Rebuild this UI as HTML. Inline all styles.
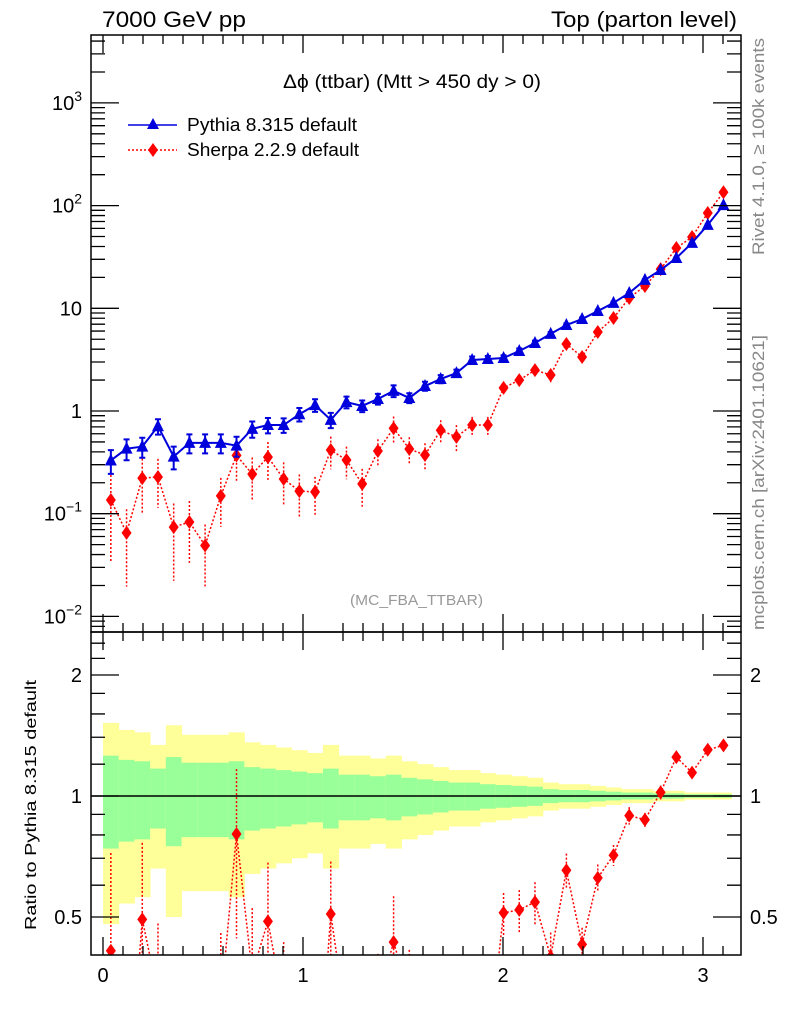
<!DOCTYPE html>
<html><head><meta charset="utf-8"><style>
html,body{margin:0;background:#fff;width:786px;height:1024px;overflow:hidden;position:relative}
svg{font-family:"Liberation Sans",sans-serif;display:block;position:absolute;left:0;top:0}
</style></head><body>
<svg id="c" width="786" height="1024" xmlns="http://www.w3.org/2000/svg"></svg>
<script>
const xCenters=[];for(let i=0;i<40;i++)xCenters.push((i+0.5)*Math.PI/40);
const pythia=[0.33,0.43,0.45,0.71,0.36,0.49,0.49,0.49,0.46,0.67,0.73,0.73,0.93,1.14,0.82,1.22,1.12,1.31,1.57,1.34,1.75,2.05,2.34,3.14,3.21,3.28,3.84,4.59,5.63,6.87,7.86,9.4,11.3,14.1,18.9,23.6,30.9,43.3,65,101];
const pythiaRelErr=[0.26,0.23,0.22,0.17,0.25,0.21,0.21,0.21,0.22,0.18,0.17,0.16,0.15,0.14,0.17,0.13,0.13,0.12,0.13,0.11,0.10,0.09,0.08,0.08,0.07,0.065,0.06,0.055,0.04,0.035,0.035,0.03,0.025,0.02,0.02,0.015,0.015,0.01,0.01,0.01];
const sherpa=[0.136,0.065,0.222,0.228,0.074,0.083,0.049,0.149,0.37,0.243,0.356,0.218,0.166,0.163,0.417,0.333,0.195,0.408,0.68,0.427,0.373,0.65,0.56,0.73,0.73,1.68,2.0,2.5,2.24,4.49,3.36,5.88,8.05,12.6,16.5,24.1,38.6,49.5,84.7,135];
const sherpaRelErr=[0.75,0.7,0.55,0.5,0.7,0.6,0.6,0.5,0.45,0.45,0.4,0.45,0.45,0.4,0.35,0.35,0.4,0.3,0.3,0.3,0.3,0.25,0.3,0.2,0.2,0.12,0.12,0.12,0.15,0.1,0.1,0.08,0.06,0.05,0.04,0.04,0.03,0.03,0.02,0.02];
const xTicks=[0,1,2,3];
const mainTicks=[[3,"10<tspan dy='-9' font-size='14'>3</tspan>"],[2,"10<tspan dy='-9' font-size='14'>2</tspan>"],[1,"10"],[0,"1"],[-1,"10<tspan dy='-9' font-size='14'>−1</tspan>"],[-2,"10<tspan dy='-9' font-size='14'>−2</tspan>"]];
const ratioTicks=[2,1,0.5];

const S=document.getElementById('c');const NS='http://www.w3.org/2000/svg';
function el(t,a,p){const e=document.createElementNS(NS,t);for(const k in a)e.setAttribute(k,a[k]);(p||S).appendChild(e);return e;}
const L=91,R=741,T=35,MB=632,RB=955;
const X=v=>103+200*v;
const Y=v=>411-102.7*Math.log10(v);
const YR=v=>796-121*Math.log2(v);
const bw=Math.PI/40;
const defs=el('defs',{});
const c1=el('clipPath',{id:'cm'},defs);el('rect',{x:L,y:T,width:R-L,height:MB-T},c1);
const c2=el('clipPath',{id:'cr'},defs);el('rect',{x:L,y:MB,width:R-L,height:RB-MB},c2);
const gR=el('g',{'clip-path':'url(#cr)'});

for(let i=0;i<40;i++){const e=pythiaRelErr[i];const x0=X(i*bw),x1=X((i+1)*bw)+0.5;
 const y=el('rect',{x:x0,y:YR(1+2*e),width:x1-x0,height:YR(Math.max(1-2*e,0.05))-YR(1+2*e),fill:'#ffff99'},gR);
 
 const g=el('rect',{x:x0,y:YR(1+e),width:x1-x0,height:YR(1-e)-YR(1+e),fill:'#99ff99'},gR);
 }
el('line',{x1:L,x2:R,y1:YR(1),y2:YR(1),stroke:'#000','stroke-width':1.5},gR);
let rp='';const ratio=sherpa.map((s,i)=>s/pythia[i]);
ratio.forEach((r,i)=>{rp+=(i?'L':'M')+X(xCenters[i])+','+YR(r);});
el('path',{d:rp,fill:'none',stroke:'red','stroke-width':1.5,'stroke-dasharray':'2,2'},gR);
ratio.forEach((r,i)=>{const x=X(xCenters[i]),e=sherpaRelErr[i];
 el('line',{x1:x,x2:x,y1:YR(r*(1+e)),y2:YR(Math.max(r*(1-e),0.01)),stroke:'red','stroke-width':1.5,'stroke-dasharray':'2,2'},gR);
 const y=YR(r);const d=el('path',{d:`M${x},${y-7}L${x+5},${y}L${x},${y+7}L${x-5},${y}Z`,fill:'red'},gR);
 });
const gM=el('g',{'clip-path':'url(#cm)'});

let sp='',pp='';
sherpa.forEach((v,i)=>sp+=(i?'L':'M')+X(xCenters[i])+','+Y(v));
pythia.forEach((v,i)=>pp+=(i?'L':'M')+X(xCenters[i])+','+Y(v));
el('path',{d:sp,fill:'none',stroke:'red','stroke-width':1.5,'stroke-dasharray':'2,2'},gM);
sherpa.forEach((v,i)=>{const x=X(xCenters[i]),e=sherpaRelErr[i];
 el('line',{x1:x,x2:x,y1:Y(v*(1+e)),y2:Y(Math.max(v*(1-e),1e-4)),stroke:'red','stroke-width':1.5,'stroke-dasharray':'2,2'},gM);
 const y=Y(v);const d=el('path',{d:`M${x},${y-7}L${x+5},${y}L${x},${y+7}L${x-5},${y}Z`,fill:'red'},gM);
 });
el('path',{d:pp,fill:'none',stroke:'#0000dd','stroke-width':2},gM);
pythia.forEach((v,i)=>{const x=X(xCenters[i]),e=pythiaRelErr[i];
 const y1=Y(v*(1+e)),y2=Y(v*(1-e));
 el('path',{d:`M${x},${y1}V${y2}M${x-3},${y1}H${x+3}M${x-3},${y2}H${x+3}`,stroke:'#0000dd','stroke-width':2},gM);
 const y=Y(v);const d=el('path',{d:`M${x},${y-7}L${x+6},${y+5}L${x-6},${y+5}Z`,fill:'#0000dd'},gM);
 });
el('rect',{x:L,y:T,width:R-L,height:MB-T,fill:'none',stroke:'#000','stroke-width':1.5});
el('rect',{x:L,y:MB,width:R-L,height:RB-MB,fill:'none',stroke:'#000','stroke-width':1.5});
let tk='';
for(let v=-0.05;v<=3.2;v+=0.1){const t=Math.round(v*10)/10;if(t<-0.06)continue;const x=X(t);if(x<L||x>R)continue;const big=Math.abs(t-Math.round(t))<1e-6;const h=big?18:9;
 tk+=`M${x},${T}v${h}M${x},${MB}v${-h}M${x},${MB}v${h}M${x},${RB}v${-h}`;}
for(let d=-3;d<4;d++)for(let m=1;m<10;m++){const y=Y(m*Math.pow(10,d));if(y<T||y>MB)continue;const h=m==1?28:14;tk+=`M${L},${y}h${h}M${R},${y}h${-h}`;}
[0.4,0.5,0.6,0.7,0.8,0.9,1,1.2,1.4,1.6,1.8,2,2.2,2.4].forEach(v=>{const y=YR(v);if(y<MB||y>RB)return;const h=(v==0.5||v==1||v==2)?28:14;tk+=`M${L},${y}h${h}M${R},${y}h${-h}`;});
el('path',{d:tk,stroke:'#000','stroke-width':1.3,fill:'none'});
function tx(x,y,s,a){const t=el('text',Object.assign({x,y,'font-size':20},a||{}));t.innerHTML=s;return t;}
mainTicks.forEach(([d,s])=>{const t=tx(82,Y(Math.pow(10,d))+7,s,{'text-anchor':'end'});});
ratioTicks.forEach(v=>{const t=tx(82,YR(v)+7,String(v),{'text-anchor':'end'});
 const t2=tx(750,YR(v)+7,String(v));});
xTicks.forEach(v=>{const t=tx(X(v),982,String(v),{'text-anchor':'middle'});});
</script>
<svg width="786" height="1024" font-family="Liberation Sans, sans-serif">
<text x="102" y="27" font-size="22" textLength="144" lengthAdjust="spacingAndGlyphs">7000 GeV pp</text>
<text x="551" y="27" font-size="22" textLength="186" lengthAdjust="spacingAndGlyphs">Top (parton level)</text>
<text x="283" y="88" font-size="19" textLength="258" lengthAdjust="spacingAndGlyphs">Δϕ (ttbar) (Mtt &gt; 450 dy &gt; 0)</text>
<g><line x1="128" x2="177" y1="125" y2="125" stroke="#0000dd" stroke-width="1.5"/><path d="M153,118L159,129L147,129Z" fill="#0000dd"/><text x="187" y="131" font-size="18" textLength="170" lengthAdjust="spacingAndGlyphs">Pythia 8.315 default</text></g>
<g><line x1="128" x2="177" y1="150" y2="150" stroke="red" stroke-width="1.5" stroke-dasharray="2,2"/><path d="M153,143L158,150L153,157L148,150Z" fill="red"/><text x="187" y="156" font-size="18" textLength="172" lengthAdjust="spacingAndGlyphs">Sherpa 2.2.9 default</text></g>
<text x="350" y="605" font-size="15" fill="#999" textLength="133" lengthAdjust="spacingAndGlyphs">(MC_FBA_TTBAR)</text>
<text transform="translate(764,255) rotate(-90)" font-size="17" fill="#888" textLength="217" lengthAdjust="spacingAndGlyphs">Rivet 4.1.0, ≥ 100k events</text>
<text transform="translate(764,630) rotate(-90)" font-size="17" fill="#888" textLength="295" lengthAdjust="spacingAndGlyphs">mcplots.cern.ch [arXiv:2401.10621]</text>
<text transform="translate(36,930) rotate(-90)" font-size="16" textLength="250" lengthAdjust="spacingAndGlyphs">Ratio to Pythia 8.315 default</text>
</svg>
</body></html>
